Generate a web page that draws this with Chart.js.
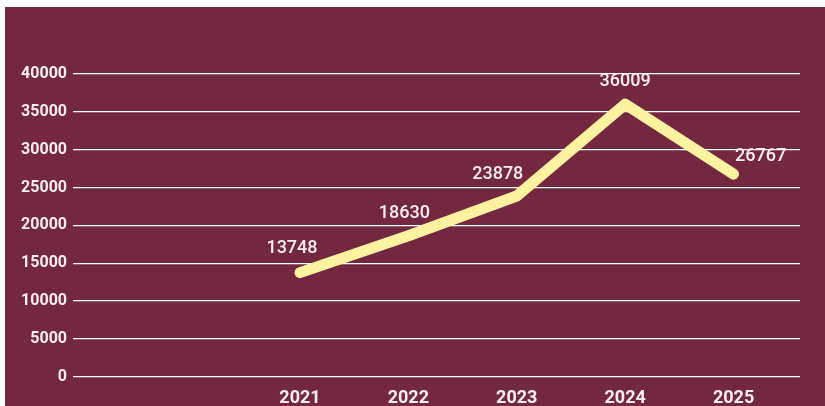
<!DOCTYPE html>
<html>
<head>
<meta charset="utf-8">
<script src="https://cdn.jsdelivr.net/npm/chart.js@4"></script>
<style>
  html, body { margin: 0; padding: 0; background: #ffffff; }
  #wrap { position: absolute; left: 5px; top: 7px; width: 820px; height: 399px; background: #742840; }
  canvas { display: block; }
</style>
</head>
<body>
<div id="wrap"><canvas id="c"></canvas></div>
<script>
const years = [2021, 2022, 2023, 2024, 2025];
const values = [13748, 18630, 23878, 36009, 26767];
const yTicks = [0, 5000, 10000, 15000, 20000, 25000, 30000, 35000, 40000];

// label placement offsets (pixels) relative to each point
const labelDX = [-8, -4, -19, 0, 27];
const labelDY = [-24, -22, -22, -23, -18];

const valueLabels = {
  id: 'valueLabels',
  afterDatasetsDraw(chart) {
    const ctx = chart.ctx;
    const meta = chart.getDatasetMeta(0);
    ctx.save();
    ctx.fillStyle = '#f7eef0';
    ctx.font = '500 18px Roboto';
    ctx.textAlign = 'center';
    ctx.textBaseline = 'middle';
    meta.data.forEach((pt, i) => {
      ctx.fillText(String(values[i]), pt.x + labelDX[i], pt.y + labelDY[i]);
    });
    ctx.restore();
  }
};

new Chart(document.getElementById('c'), {
  type: 'line',
  data: {
    datasets: [{
      data: years.map((y, i) => ({ x: y, y: values[i] })),
      borderColor: '#fcf2a0',
      borderWidth: 11,
      borderCapStyle: 'round',
      borderJoinStyle: 'round',
      pointRadius: 0,
      tension: 0,
      fill: false
    }]
  },
  options: {
    responsive: true,
    maintainAspectRatio: false,
    animation: false,
    layout: { padding: { top: 67, right: 25, left: 0, bottom: 0 } },
    plugins: { legend: { display: false }, tooltip: { enabled: false } },
    scales: {
      x: {
        type: 'linear',
        min: 2018.906,
        max: 2025.613,
        afterBuildTicks(scale) { scale.ticks = years.map(v => ({ value: v })); },
        afterFit(scale) { scale.height = 29.3; },
        grid: { display: false },
        border: { display: false },
        ticks: {
          color: '#f7eef0',
          font: { family: 'Roboto', size: 18, weight: 'bold' },
          padding: 3,
          maxRotation: 0,
          callback: v => String(v)
        }
      },
      y: {
        min: 0,
        max: 40000,
        afterBuildTicks(scale) { scale.ticks = yTicks.map(v => ({ value: v })); },
        afterFit(scale) { scale.width = 68; },
        grid: { color: '#ffffff', lineWidth: 1.3, drawTicks: false },
        border: { display: false },
        ticks: {
          color: '#f7eef0',
          font: { family: 'Roboto', size: 16, weight: 'bold' },
          padding: 6,
          callback: v => String(v)
        }
      }
    }
  },
  plugins: [valueLabels]
});
</script>
</body>
</html>
